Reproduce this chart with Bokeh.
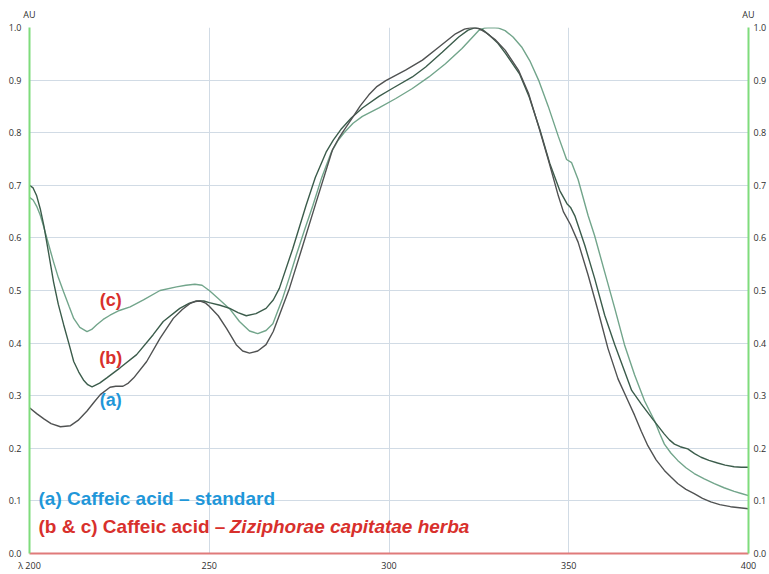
from bokeh.plotting import figure
from bokeh.models import Range1d, FixedTicker, LinearAxis
from bokeh.embed import file_html
from bokeh.resources import INLINE
from bokeh.core.properties import value

# (a) Caffeic acid standard
wl_a = [200, 202, 204, 206, 208.6, 211.4, 213.5, 216, 218, 219.7, 222.4, 224, 226, 227.5, 229, 232.6,
        236.3, 240, 242.5, 244.6, 246, 247.5, 249, 250, 252.5, 254.8, 257.5, 259.3, 261.2, 263.5,
        265.8, 267.8, 269.5, 272.3, 276, 279.7, 284.3, 286, 287.5, 289.8, 292, 294.4, 296.5, 299.1,
        304.6, 309.3, 313.9, 318.5, 321, 323, 325, 327, 329.5, 332.3, 336, 338.8, 341.6, 344.3,
        347.1, 348.5, 350.5, 352.6, 355.4, 358.2, 360.9, 363.7, 366.5, 368.3, 370.2, 372, 374.3,
        376.6, 378.5, 380.3, 382.6, 384.9, 387.2, 389.5, 392, 395, 397.5, 400]
abs_a = [0.277, 0.266, 0.256, 0.247, 0.241, 0.243, 0.253, 0.271, 0.288, 0.302, 0.316, 0.318, 0.318, 0.324, 0.334, 0.365,
         0.409, 0.447, 0.464, 0.475, 0.479, 0.48, 0.476, 0.47, 0.452, 0.428, 0.397, 0.385, 0.381, 0.385,
         0.397, 0.422, 0.453, 0.504, 0.585, 0.667, 0.768, 0.789, 0.805, 0.828, 0.851, 0.872, 0.887, 0.899,
         0.919, 0.938, 0.963, 0.988, 0.997, 1.0, 0.998, 0.99, 0.977, 0.957, 0.919, 0.875, 0.812, 0.749,
         0.68, 0.65, 0.625, 0.592, 0.529, 0.46, 0.39, 0.332, 0.29, 0.263, 0.232, 0.205, 0.178,
         0.158, 0.145, 0.133, 0.122, 0.114, 0.105, 0.098, 0.093, 0.089, 0.087, 0.085]

# (b) Caffeic acid in Ziziphorae capitatae herba
wl_b = [200, 201, 202, 203, 204, 205.3, 206.7, 208, 209.5, 211, 212.3, 213.7, 215, 216.2, 217.4, 219.5,
        221.5, 225.2, 229.8, 234.4, 237.2, 241.8, 244.5, 246.5, 248.5, 250, 253, 255.7, 258, 260.3,
        263, 265.8, 267.8, 269.5, 273.2, 276.9, 279.5, 282.5, 284.5, 286.6, 289.5, 292.6, 297.2, 300.9,
        306.5, 310.2, 314.8, 319.4, 322, 324, 326, 328, 330.3, 332.5, 336.3, 339, 342, 344.7, 347.5,
        349.5, 350.5, 351.7, 354.5, 357.2, 360, 362.8, 365.5, 367.5, 370.2, 373.4, 376.6, 378,
        379.4, 381, 383.1, 385, 386.8, 389, 391.4, 393.5, 396, 398, 400]
abs_b = [0.70, 0.695, 0.68, 0.655, 0.623, 0.572, 0.516, 0.474, 0.435, 0.398, 0.365, 0.345, 0.33, 0.321, 0.317, 0.324,
         0.334, 0.353, 0.378, 0.416, 0.441, 0.466, 0.476, 0.48, 0.48, 0.477, 0.472, 0.466, 0.458, 0.452,
         0.456, 0.466, 0.482, 0.504, 0.579, 0.661, 0.715, 0.763, 0.786, 0.806, 0.828, 0.847, 0.869, 0.884,
         0.906, 0.925, 0.953, 0.982, 0.995, 1.0, 0.996, 0.985, 0.97, 0.95, 0.912, 0.868, 0.805, 0.742, 0.69,
         0.665, 0.658, 0.642, 0.585, 0.523, 0.453, 0.397, 0.347, 0.31, 0.284, 0.255, 0.227, 0.216,
         0.208, 0.203, 0.199, 0.19, 0.183, 0.177, 0.172, 0.168, 0.165, 0.164, 0.164]

# (c) Caffeic acid in Ziziphorae capitatae herba
wl_c = [200, 201, 202, 203, 204, 205.3, 206.7, 208, 209.5, 211, 212.3, 214, 216, 217.3, 218.7, 220.5,
        222.4, 225, 228, 231.7, 236.3, 240.9, 243.5, 246, 248, 250, 252.8, 255.7, 258.4, 261.2,
        263.5, 265.8, 267.7, 269, 270.4, 272.3, 274.2, 276.5, 278.8, 281.3, 283.9, 285.7, 287.5, 290,
        292.6, 297.2, 301.9, 306.5, 311.1, 315.7, 320.3, 324.9, 326.5, 328.5, 330.5, 332.3, 334.5,
        336.9, 339.3, 341.6, 344.3, 347.1, 349.4, 350.8, 352.6, 355.4, 357.2, 360, 362.8, 365.5,
        368.3, 371.1, 373.9, 375.3, 376.6, 378.4, 380.3, 382.6, 384.9, 387.7, 390.5, 393.2, 396, 398, 400]
abs_c = [0.677, 0.672, 0.66, 0.643, 0.62, 0.588, 0.554, 0.525, 0.497, 0.47, 0.447, 0.43, 0.422, 0.426, 0.435, 0.445,
         0.453, 0.462, 0.469, 0.482, 0.50, 0.507, 0.510, 0.512, 0.510, 0.50, 0.483, 0.465, 0.441, 0.423,
         0.418, 0.424, 0.437, 0.46, 0.485, 0.525, 0.567, 0.615, 0.661, 0.715, 0.762, 0.784, 0.80, 0.818,
         0.831, 0.847, 0.865, 0.884, 0.906, 0.931, 0.96, 0.994, 0.999, 1.0, 0.999, 0.994, 0.982,
         0.963, 0.935, 0.9, 0.85, 0.793, 0.749, 0.743, 0.711, 0.642, 0.604, 0.535, 0.466, 0.397,
         0.34, 0.29, 0.252, 0.228, 0.208, 0.191, 0.177, 0.163, 0.152, 0.142, 0.133, 0.125, 0.118, 0.114, 0.110]

x_ticks = [200, 250, 300, 350, 400]
x_tick_labels = ["λ 200", "250", "300", "350", "400"]
y_ticks = [0.0, 0.1, 0.2, 0.3, 0.4, 0.5, 0.6, 0.7, 0.8, 0.9, 1.0]
y_tick_labels = ["0.0", "0.1", "0.2", "0.3", "0.4", "0.5", "0.6", "0.7", "0.8", "0.9", "1.0"]
unit_label = "AU"
curve_labels = ["(a)", "(b)", "(c)"]
legend_a = "(a) Caffeic acid \u2013 standard"
legend_bc_plain = "(b & c) Caffeic acid \u2013 "
legend_bc_italic = "Ziziphorae capitatae herba"

GREEN_AX = "#7fdc7c"
RED_AX = "#e07a7a"
GRID = "#d1dbe5"
BLUE = "#1f97d9"
RED = "#d8302c"
TICK_FONT = "Open Sans"
TICK_COLOR = "#2e2e2e"
LEG_FONT = "Liberation Sans"

p = figure(width=769, height=574, output_backend="svg", toolbar_location=None,
           x_range=Range1d(200, 400), y_range=Range1d(0, 1.0),
           min_border_left=29, min_border_right=18, min_border_top=27, min_border_bottom=17)
p.outline_line_color = None
p.background_fill_color = "white"
p.border_fill_color = "white"

# grid
p.xgrid.ticker = FixedTicker(ticks=[250, 300, 350])
p.ygrid.ticker = FixedTicker(ticks=y_ticks)
for g in (p.xgrid, p.ygrid):
    g.grid_line_color = GRID
    g.grid_line_width = 1


def style_axis(ax, color, labels, standoff):
    ax.axis_line_color = color
    ax.axis_line_width = 2
    ax.major_tick_line_color = None
    ax.minor_tick_line_color = None
    ax.major_tick_in = 0
    ax.major_tick_out = 0
    ax.major_label_standoff = standoff
    ax.major_label_text_font = TICK_FONT
    ax.major_label_text_font_size = "9px"
    ax.major_label_text_color = TICK_COLOR
    ax.major_label_overrides = labels


xax = p.xaxis[0]
xax.ticker = FixedTicker(ticks=x_ticks)
style_axis(xax, RED_AX, {t: l for t, l in zip(x_ticks, x_tick_labels)}, 5)

yax = p.yaxis[0]
yax.ticker = FixedTicker(ticks=y_ticks)
style_axis(yax, GREEN_AX, {t: l for t, l in zip(y_ticks, y_tick_labels)}, 8)

rax = LinearAxis(ticker=FixedTicker(ticks=y_ticks))
style_axis(rax, GREEN_AX, {t: l for t, l in zip(y_ticks, y_tick_labels)}, 5)
p.add_layout(rax, "right")

# "AU" unit labels above both vertical axes
tax = LinearAxis(ticker=FixedTicker(ticks=[200, 400]))
style_axis(tax, None, {200: unit_label, 400: unit_label}, 7)
p.add_layout(tax, "above")

# curves
p.line(wl_c, abs_c, line_color="#72a58b", line_width=1.4)
p.line(wl_b, abs_b, line_color="#3b5c4b", line_width=1.4)
p.line(wl_a, abs_a, line_color="#505252", line_width=1.4)

# curve labels
p.text(x=[222.6, 222.6, 222.6], y=[0.292, 0.372, 0.482], text=curve_labels,
       text_color=[BLUE, RED, RED], text_font=value(LEG_FONT), text_font_size="18px",
       text_font_style="bold", text_align="center", text_baseline="middle")

# legend text
p.text(x=[202.5], y=[0.104], text=[legend_a], text_color=BLUE, text_font=value(LEG_FONT),
       text_font_size="19px", text_font_style="bold", text_align="left", text_baseline="middle")
p.text(x=[202.5], y=[0.051], text=[legend_bc_plain], text_color=RED, text_font=value(LEG_FONT),
       text_font_size="19px", text_font_style="bold", text_align="left", text_baseline="middle")
p.text(x=[255.7], y=[0.051], text=[legend_bc_italic], text_color=RED, text_font=value(LEG_FONT),
       text_font_size="19px", text_font_style="bold italic", text_align="left", text_baseline="middle")

open("out.html", "w").write(file_html(p, INLINE))
